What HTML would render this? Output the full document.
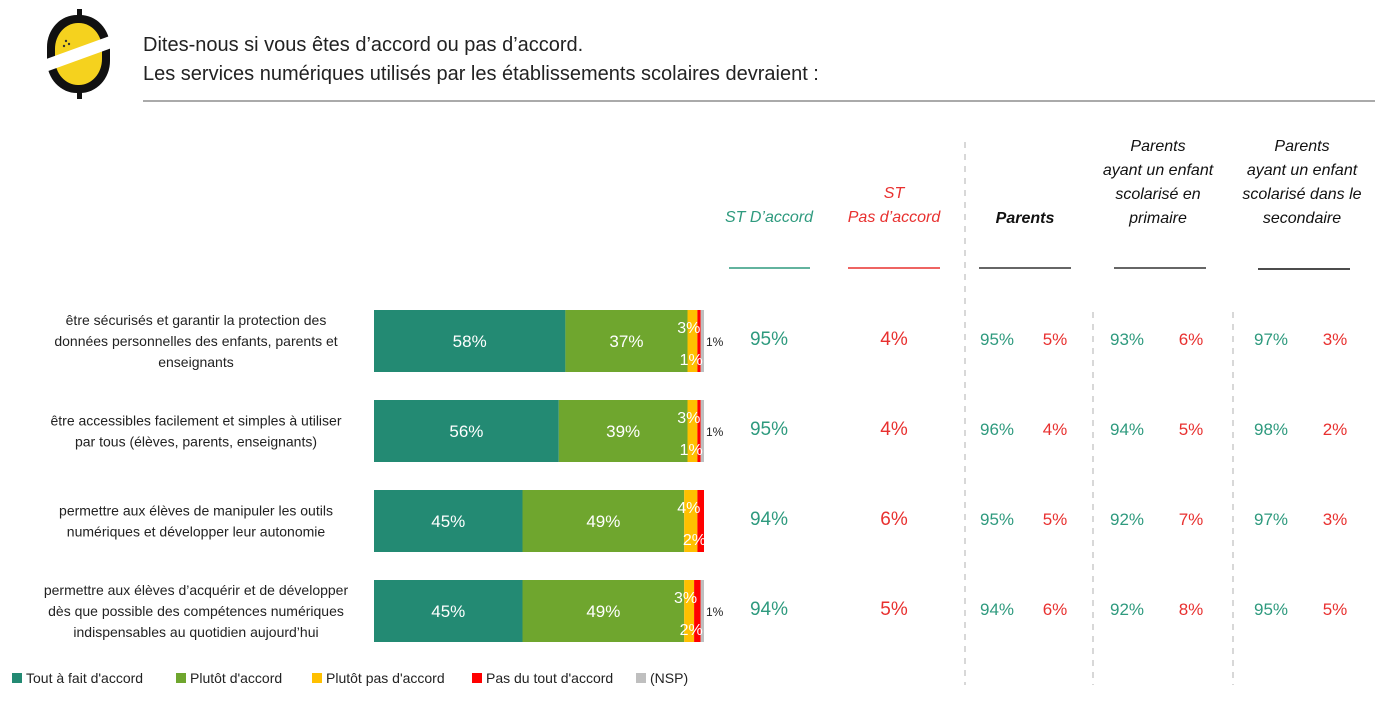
<!DOCTYPE html>
<html><head><meta charset="utf-8"><style>
body{margin:0;background:#fff;font-family:"Liberation Sans",sans-serif;}
svg{display:block}
</style></head><body>
<svg width="1375" height="701" id="c">
<g>
<rect x="77" y="9" width="5" height="90" fill="#111"/>
<rect x="47" y="15" width="63" height="78" rx="30" ry="32" fill="#111"/>
<rect x="55" y="23" width="47" height="62" rx="23" ry="26" fill="#F5D21E"/>
<circle cx="66" cy="41" r="1.2" fill="#333"/><circle cx="69" cy="44" r="1.2" fill="#333"/><circle cx="64" cy="46" r="1.2" fill="#333"/>
<polygon points="38,62 118,33 120,45 40,74" fill="#fff"/>
</g>
<text x="143" y="51" font-size="20" fill="#222">Dites-nous si vous êtes d’accord ou pas d’accord.</text>
<text x="143" y="80" font-size="20" fill="#222">Les services numériques utilisés par les établissements scolaires devraient :</text>
<line x1="143" y1="101" x2="1375" y2="101" stroke="#aaa" stroke-width="2"/>
<g font-style="italic" font-size="16" text-anchor="middle">
<text x="769" y="222" fill="#2E9A7E">ST D’accord</text>
<text x="894" y="198" fill="#E8302F"><tspan x="894">ST</tspan><tspan x="894" dy="24">Pas d’accord</tspan></text>
<text x="1025" y="223" fill="#111" font-weight="bold">Parents</text>
<text fill="#111"><tspan x="1158" y="151">Parents</tspan><tspan x="1158" dy="24">ayant un enfant</tspan><tspan x="1158" dy="24">scolarisé en</tspan><tspan x="1158" dy="24">primaire</tspan></text>
<text fill="#111"><tspan x="1302" y="151">Parents</tspan><tspan x="1302" dy="24">ayant un enfant</tspan><tspan x="1302" dy="24">scolarisé dans le</tspan><tspan x="1302" dy="24">secondaire</tspan></text>
</g>
<line x1="729" y1="268" x2="810" y2="268" stroke="#2E9A7E" stroke-width="1.5"/>
<line x1="848" y1="268" x2="940" y2="268" stroke="#E8302F" stroke-width="1.5"/>
<line x1="979" y1="268" x2="1071" y2="268" stroke="#333" stroke-width="1.5"/>
<line x1="1114" y1="268" x2="1206" y2="268" stroke="#333" stroke-width="1.5"/>
<line x1="1258" y1="269" x2="1350" y2="269" stroke="#111" stroke-width="1.5"/>
<g stroke="#ccc" stroke-width="1.5" stroke-dasharray="6,6">
<line x1="965" y1="142" x2="965" y2="685"/>
<line x1="1093" y1="312" x2="1093" y2="685"/>
<line x1="1233" y1="312" x2="1233" y2="685"/>
</g>
<g id="bars"></g>
<g id="legend" font-size="14" fill="#222"></g>
</svg>
<script>
const labels=[["être sécurisés et garantir la protection des","données personnelles des enfants, parents et","enseignants"],["être accessibles facilement et simples à utiliser","par tous (élèves, parents, enseignants)"],["permettre aux élèves de manipuler les outils","numériques et développer leur autonomie"],["permettre aux élèves d’acquérir et de développer","dès que possible des compétences numériques","indispensables au quotidien aujourd’hui"]];
const toutAfait=[58,56,45,45];
const plutot=[37,39,49,49];
const plutotPas=[3,3,4,3];
const pasDuTout=[1,1,2,2];
const nsp=[1,1,0,1];
const stAccord=[95,95,94,94];
const stPas=[4,4,6,5];
const parG=[95,96,95,94],parR=[5,4,5,6];
const priG=[93,94,92,92],priR=[6,5,7,8];
const secG=[97,98,97,95],secR=[3,2,3,5];
const legendNames=["Tout à fait d'accord","Plutôt d'accord","Plutôt pas d'accord","Pas du tout d'accord","(NSP)"];
const colors=["#238A73","#6FA62E","#FFC000","#FF0000","#BFBFBF"];
const x0=374,sc=3.3,rowY=[310,400,490,580],bh=62;
const xs=v=>v*sc;
const NS="http://www.w3.org/2000/svg";
const g=document.getElementById('bars');
function mk(t,a,p){const e=document.createElementNS(NS,t);for(const k in a)e.setAttribute(k,a[k]);(p||g).appendChild(e);return e;}
const series=[toutAfait,plutot,plutotPas,pasDuTout,nsp];
rowY.forEach((y,i)=>{
 const cy=y+bh/2;
 const L=labels[i];const lt=mk('text',{x:196,'text-anchor':'middle','font-size':14,fill:'#222'});
 
 
 L.forEach((s,j)=>{const ts=mk('tspan',{x:196,y:cy-(L.length-1)*10.5+5+j*21},lt);ts.textContent=s;});
 let x=x0;
 const ends=[];
 series.forEach((s,k)=>{
  const w=xs(s[i]);
  const r=mk('rect',{x:x,y:y,width:w,height:bh,fill:colors[k]});
  
  
  if(k<2){const t=mk('text',{x:x+w/2,y:cy+6,'text-anchor':'middle','font-size':17,fill:'#fff'});t.textContent=s[i]+'%';
   
   }
  ends.push(x+w);
  x+=w;
 });
 const t3=mk('text',{x:ends[2]+3,y:y+23,'text-anchor':'end','font-size':16,fill:'#fff'});t3.textContent=plutotPas[i]+'%';
 
 
 const t4=mk('text',{x:ends[3]+2,y:y+55,'text-anchor':'end','font-size':16,fill:'#fff'});t4.textContent=pasDuTout[i]+'%';
 
 
 if(nsp[i]>0){const t=mk('text',{x:ends[4]+2,y:cy+5,'font-size':12,fill:'#222'});t.textContent=nsp[i]+'%';
  
  }
 const vals=[[769,stAccord,'#2E9A7E',19],[894,stPas,'#E8302F',19],[997,parG,'#2E9A7E',17],[1055,parR,'#E8302F',17],[1127,priG,'#2E9A7E',17],[1191,priR,'#E8302F',17],[1271,secG,'#2E9A7E',17],[1335,secR,'#E8302F',17]];
 vals.forEach(v=>{const t=mk('text',{x:v[0],y:cy+4,'text-anchor':'middle','font-size':v[3],fill:v[2]});t.textContent=v[1][i]+'%';
  
  });
});
const lg=document.getElementById('legend');
const lx=[12,176,312,472,636];
legendNames.forEach((n,k)=>{
 const r=mk('rect',{x:lx[k],y:673,width:10,height:10,fill:colors[k]},lg);
 
 
 const t=mk('text',{x:lx[k]+14,y:683},lg);t.textContent=n;
 
 
});
</script>
</body></html>
